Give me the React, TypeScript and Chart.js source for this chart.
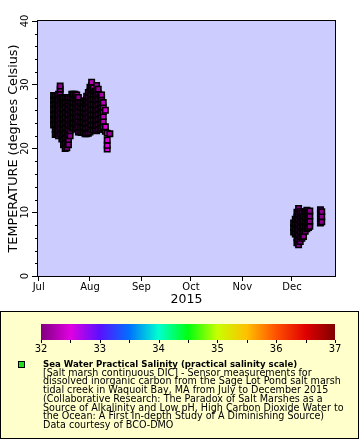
import { useEffect, useRef } from 'react';
import { Chart, registerables } from 'chart.js';

Chart.register(...registerables);

const FONT = '"DejaVu Sans", sans-serif';

// Axis text
const monthTicks = [0, 31, 62, 92, 123, 153]; // days since 2015-07-01
const monthLabels = ['Jul', 'Aug', 'Sep', 'Oct', 'Nov', 'Dec'];
const yTicks = [0, 10, 20, 30, 40];
const yMinorStep = 2;
const xTitle = '2015';
const yTitle = 'TEMPERATURE (degrees Celsius)';

// Colour bar (salinity)
const colorbarTicks = [32, 33, 34, 35, 36, 37];
const colorbarMin = 32;
const colorbarMax = 37;
const colorbarStops: [number, string][] = [
  [0.0, '#800080'],
  [0.1, '#e000e0'],
  [0.2, '#5a10ff'],
  [0.3, '#0070ff'],
  [0.4, '#00ffd0'],
  [0.5, '#00ff10'],
  [0.6, '#c8ff00'],
  [0.7, '#ffc000'],
  [0.8, '#ff5000'],
  [0.9, '#e00000'],
  [1.0, '#800000'],
];

const legendTitle = 'Sea Water Practical Salinity (practical salinity scale)';
const legendLines = [
  '[Salt marsh continuous DIC] - Sensor measurements for',
  'dissolved inorganic carbon from the Sage Lot Pond salt marsh',
  'tidal creek in Waquoit Bay, MA from July to December 2015',
  '(Collaborative Research: The Paradox of Salt Marshes as a',
  'Source of Alkalinity and Low pH, High Carbon Dioxide Water to',
  'the Ocean: A First In-depth Study of A Diminishing Source)',
  'Data courtesy of BCO-DMO',
];

// Samples: day since 2015-07-01, temperatures observed around that day, salinity
const sampleDays = [
  9, 10, 11, 12, 13, 14, 15, 16, 17, 18, 19, 20, 21, 22, 23, 24, 25, 26, 27, 28,
  29, 30, 31, 32, 33, 34, 35, 36, 37, 38, 39, 40.3, 41.4, 43,
  154, 155, 156, 157, 158, 159, 160, 161, 162, 163, 163.8, 170.2, 171,
];
const sampleTemps: number[][] = [
  [23.7, 24.5, 25.3, 26.1, 26.9, 27.6, 28.3],
  [22.2, 23.0, 23.8, 24.6, 25.4, 26.2, 27.0, 27.7, 28.3],
  [22.2, 23.0, 23.8, 24.6, 25.4, 26.2, 27.0, 27.7, 28.3],
  [22.0, 22.8, 23.6, 24.4, 25.2, 26.0, 26.8, 27.6, 28.5],
  [22.3, 23.1, 23.9, 24.7, 25.5, 26.3, 27.1, 27.9, 28.7, 29.3, 29.8],
  [21.5, 22.3, 23.1, 23.9, 24.7, 25.5, 26.3, 27.1, 27.6, 28.0],
  [20.6, 21.4, 22.2, 23.0, 23.8, 24.6, 25.4, 26.2, 27.0, 27.6, 28.0],
  [20.0, 20.8, 21.6, 22.4, 23.2, 24.0, 24.8, 25.6, 26.4, 27.2, 27.9],
  [20.1, 20.9, 21.7, 22.5, 23.3, 24.1, 24.9, 25.7, 26.5, 27.3, 28.0],
  [20.6, 21.4, 22.2, 23.0, 23.8, 24.6, 25.4, 26.2, 27.0, 27.6, 28.0],
  [22.0, 22.8, 23.6, 24.4, 25.2, 26.0, 26.8, 27.5, 28.0],
  [23.2, 24.0, 24.8, 25.6, 26.4, 27.2, 27.9, 28.5],
  [23.2, 24.0, 24.8, 25.6, 26.4, 27.2, 27.9, 28.5],
  [23.3, 24.1, 24.9, 25.7, 26.5, 27.3, 28.0, 28.5],
  [23.0, 23.8, 24.6, 25.4, 26.2, 27.0, 27.8, 28.4],
  [22.6, 23.4, 24.2, 25.0, 25.8, 26.6, 27.4, 28.0],
  [22.6, 23.4, 24.2, 25.0, 25.8, 26.5, 27.2],
  [22.5, 23.3, 24.1, 24.9, 25.7, 26.5, 27.1],
  [22.6, 23.4, 24.2, 25.0, 25.8, 26.5, 27.2],
  [22.3, 23.1, 23.9, 24.7, 25.5, 26.3, 27.0, 27.5],
  [22.3, 23.1, 23.9, 24.7, 25.5, 26.3, 27.1, 27.7, 28.2],
  [22.4, 23.2, 24.0, 24.8, 25.6, 26.4, 27.2, 28.0, 28.8],
  [22.6, 23.4, 24.2, 25.0, 25.8, 26.6, 27.4, 28.2, 29.0, 29.6],
  [22.9, 23.7, 24.5, 25.3, 26.1, 26.9, 27.7, 28.5, 29.3, 29.9, 30.4],
  [22.9, 23.7, 24.5, 25.3, 26.1, 26.9, 27.7, 28.5, 29.1, 29.5],
  [22.9, 23.7, 24.5, 25.3, 26.1, 26.9, 27.7, 28.4, 29.0],
  [22.8, 23.6, 24.4, 25.2, 26.0, 26.8, 27.6, 28.4, 29.2, 29.9],
  [23.0, 23.8, 24.6, 25.4, 26.2, 27.0, 27.8, 28.6, 29.3],
  [23.0, 23.8, 24.6, 25.4, 26.2, 27.0, 27.7, 28.4],
  [23.2, 24.0, 24.8, 25.6, 26.4, 27.2, 27.8, 28.4],
  [23.4, 24.2, 25.0, 25.8, 26.5, 27.2],
  [22.7, 23.4, 26.0],
  [19.9, 20.5, 21.3, 22.4],
  [22.3],
  [6.9, 7.6, 8.3],
  [6.6, 7.4, 8.2, 8.9],
  [5.2, 6.0, 6.8, 7.6, 8.4, 9.2, 10.0],
  [4.9, 5.7, 6.5, 7.3, 8.1, 8.9, 9.7, 10.6],
  [5.4, 6.2, 7.0, 7.8, 8.6, 9.4, 10.1],
  [5.9, 6.7, 7.5, 8.3, 9.1, 9.8],
  [6.2, 7.0, 7.8, 8.6, 9.4],
  [7.0, 7.8, 8.6, 9.4, 10.1],
  [7.4, 8.2, 9.0, 9.8, 10.3],
  [7.6, 8.4, 9.2, 10.0],
  [7.8, 8.6, 9.4, 10.2],
  [8.3, 9.1, 9.8, 10.4],
  [8.5, 9.3, 10.1],
];
const sampleSalinity = [
  32.08, 32.1, 32.08, 32.1, 32.12, 32.08, 32.1, 32.08, 32.1, 32.08, 32.1, 32.1,
  32.08, 32.1, 32.12, 32.1, 32.08, 32.1, 32.1, 32.12, 32.15, 32.2, 32.25, 32.3,
  32.25, 32.2, 32.15, 32.12, 32.15, 32.2, 32.3, 32.45, 32.5, 32.1,
  32.05, 32.06, 32.05, 32.06, 32.05, 32.06, 32.05, 32.06, 32.08, 32.06, 32.05,
  32.08, 32.06,
];

function hexToRgb(h: string) {
  const n = parseInt(h.slice(1), 16);
  return [(n >> 16) & 255, (n >> 8) & 255, n & 255];
}

function salColor(v: number) {
  let t = (v - colorbarMin) / (colorbarMax - colorbarMin);
  t = Math.max(0, Math.min(1, t));
  for (let i = 1; i < colorbarStops.length; i++) {
    const [p1, c1] = colorbarStops[i];
    const [p0, c0] = colorbarStops[i - 1];
    if (t <= p1) {
      const f = (t - p0) / (p1 - p0);
      const a = hexToRgb(c0);
      const b = hexToRgb(c1);
      const r = a.map((x, k) => Math.round(x + (b[k] - x) * f));
      return `rgb(${r[0]},${r[1]},${r[2]})`;
    }
  }
  return colorbarStops[colorbarStops.length - 1][1];
}

const decorPlugin = {
  id: 'decor',
  beforeDraw(chart: any) {
    const { ctx, chartArea: a } = chart;
    ctx.save();
    ctx.fillStyle = '#ccccff';
    ctx.fillRect(a.left, a.top, a.right - a.left, a.bottom - a.top);
    ctx.restore();
  },
  afterDraw(chart: any) {
    const { ctx, chartArea: a } = chart;
    const yScale = chart.scales.y;
    ctx.save();
    // frame
    ctx.strokeStyle = '#000';
    ctx.lineWidth = 1;
    ctx.strokeRect(a.left - 0.5, a.top - 0.5, a.right - a.left + 1, a.bottom - a.top + 1);
    // minor y ticks
    ctx.beginPath();
    for (let v = yScale.min; v <= yScale.max; v += yMinorStep) {
      if (v % 10 === 0) continue;
      const py = Math.round(yScale.getPixelForValue(v)) + 0.5;
      ctx.moveTo(a.left - 3, py);
      ctx.lineTo(a.left, py);
    }
    ctx.stroke();

    // legend box
    const boxTop = 311.5;
    ctx.fillStyle = '#ffffcc';
    ctx.fillRect(0.5, boxTop, 358, 127);
    ctx.strokeRect(0.5, boxTop, 358, 127);

    // colour bar
    const cbL = 41, cbR = 335, cbT = 324, cbB = 340;
    const grad = ctx.createLinearGradient(cbL, 0, cbR, 0);
    colorbarStops.forEach(([p, c]) => grad.addColorStop(p, c));
    ctx.fillStyle = grad;
    ctx.fillRect(cbL, cbT, cbR - cbL, cbB - cbT);
    ctx.beginPath();
    for (let v = colorbarMin; v <= colorbarMax + 1e-6; v += 0.5) {
      const px = Math.round(cbL + ((v - colorbarMin) / (colorbarMax - colorbarMin)) * (cbR - cbL)) + 0.5;
      ctx.moveTo(px, cbB);
      ctx.lineTo(px, cbB + 3);
    }
    ctx.stroke();
    ctx.fillStyle = '#000';
    ctx.font = `10px ${FONT}`;
    ctx.textAlign = 'center';
    ctx.textBaseline = 'middle';
    colorbarTicks.forEach((v) => {
      const px = cbL + ((v - colorbarMin) / (colorbarMax - colorbarMin)) * (cbR - cbL);
      ctx.fillText(String(v), px, 349);
    });

    // legend marker
    ctx.fillStyle = '#22dd22';
    ctx.fillRect(18.5, 361.5, 6, 6);
    ctx.strokeRect(18.5, 361.5, 6, 6);

    // legend text
    ctx.fillStyle = '#000';
    ctx.textAlign = 'left';
    ctx.font = `bold 8.6px ${FONT}`;
    ctx.fillText(legendTitle, 43, 364.5);
    ctx.font = `9.6px ${FONT}`;
    legendLines.forEach((line, i) => ctx.fillText(line, 43, 373.2 + i * 8.7));
    ctx.restore();
  },
};

export default function App() {
  const ref = useRef<HTMLCanvasElement | null>(null);
  useEffect(() => {
    if (!ref.current) return;
    const points: { x: number; y: number; s: number }[] = [];
    sampleDays.forEach((d, i) => {
      sampleTemps[i].forEach((t) => points.push({ x: d, y: t, s: sampleSalinity[i] }));
    });
    const chart = new Chart(ref.current, {
      type: 'scatter',
      data: {
        datasets: [
          {
            data: points as any,
            pointStyle: 'rect',
            pointRadius: 3.8,
            pointHoverRadius: 3.8,
            pointBorderWidth: 1.6,
            pointBorderColor: '#000',
            pointBackgroundColor: (c: any) => salColor(c.raw ? c.raw.s : 32),
          } as any,
        ],
      },
      options: {
        responsive: false,
        animation: false,
        events: [],
        layout: { padding: { left: 0, top: 21, right: 25, bottom: 130 } },
        plugins: { legend: { display: false }, tooltip: { enabled: false } },
        scales: {
          x: {
            type: 'linear',
            min: -0.4,
            max: 179,
            afterBuildTicks: (s: any) => {
              s.ticks = monthTicks.map((v) => ({ value: v }));
            },
            afterFit: (s: any) => {
              s.height = 34;
            },
            ticks: {
              autoSkip: false,
              minRotation: 0,
              maxRotation: 0,
              padding: 0,
              color: '#000',
              font: { family: FONT, size: 10 },
              callback: (v: any) => {
                const i = monthTicks.indexOf(Number(v));
                return i >= 0 ? monthLabels[i] : '';
              },
            },
            grid: { drawOnChartArea: false, drawTicks: true, tickLength: 5, color: '#000' },
            border: { display: false },
            title: {
              display: true,
              text: xTitle,
              color: '#000',
              font: { family: FONT, size: 12.5 },
              padding: { top: 0, bottom: 3 },
            },
          },
          y: {
            type: 'linear',
            min: 0,
            max: 40,
            afterBuildTicks: (s: any) => {
              s.ticks = yTicks.map((v) => ({ value: v }));
            },
            afterFit: (s: any) => {
              s.width = 38;
            },
            ticks: {
              minRotation: 90,
              maxRotation: 90,
              crossAlign: 'center',
              padding: 0,
              color: '#000',
              font: { family: FONT, size: 10 },
            },
            grid: { drawOnChartArea: false, drawTicks: true, tickLength: 6, color: '#000' },
            border: { display: false },
            title: {
              display: true,
              text: yTitle,
              color: '#000',
              font: { family: FONT, size: 12.8 },
              padding: { top: 6, bottom: 0 },
            },
          },
        },
      } as any,
      plugins: [decorPlugin],
    });
    return () => chart.destroy();
  }, []);
  return (
    <div style={{ position: 'absolute', left: 0, top: 0, width: 360, height: 440 }}>
      <canvas ref={ref} width={360} height={440} style={{ display: 'block' }} />
    </div>
  );
}
